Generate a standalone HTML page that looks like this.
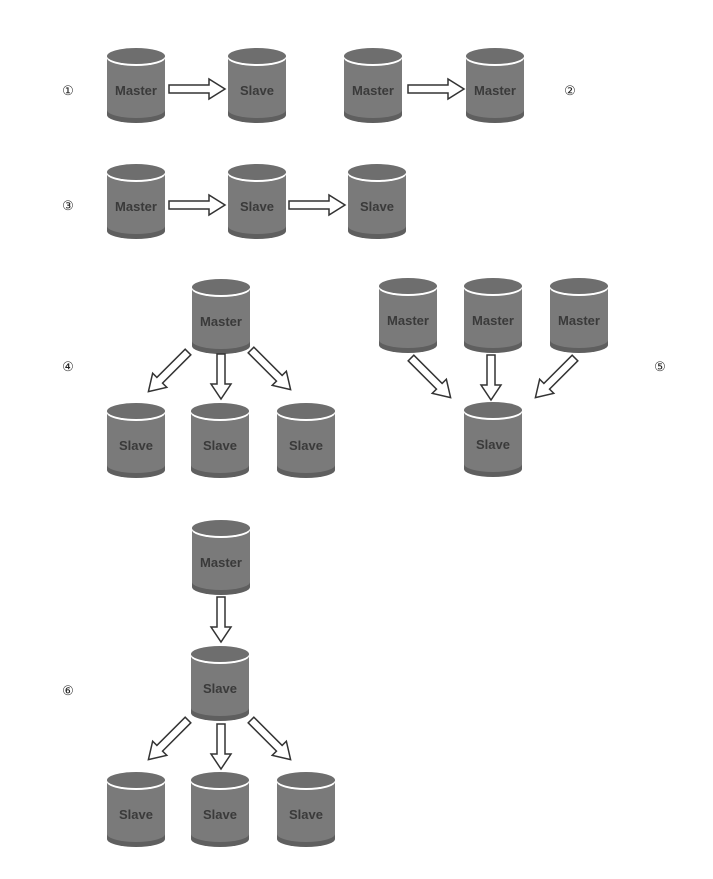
<!DOCTYPE html>
<html><head><meta charset="utf-8"><style>
html,body{margin:0;padding:0;background:#fff;}
svg{display:block;}
text{font-family:"Liberation Sans",sans-serif;}
.l{font-weight:bold;font-size:13px;fill:#3a3a3a;text-anchor:middle;}
.n{font-size:13px;fill:#222;text-anchor:middle;}
</style></head><body>
<svg width="713" height="879" viewBox="0 0 713 879" xmlns="http://www.w3.org/2000/svg">
<defs>
<g id="cyl">
<path d="M0,8 L0,67 A29,8 0 0 0 58,67 L58,8 Z" fill="#5f5f5f"/>
<path d="M0,8 L0,62 A29,8 0 0 0 58,62 L58,8 Z" fill="#7a7a7a"/>
<ellipse cx="29" cy="10" rx="29" ry="8" fill="#fff"/>
<ellipse cx="29" cy="8" rx="29" ry="8" fill="#6e6e6e"/>
</g>
<polygon id="arr" points="0,-4 40,-4 40,-10 56,0 40,10 40,4 0,4" fill="#fff" stroke="#333" stroke-width="1.5"/>
<polygon id="arr2" points="0,-4 30,-4 30,-10 45,0 30,10 30,4 0,4" fill="#fff" stroke="#333" stroke-width="1.5"/>
<polygon id="arrd" points="0,-4 40,-4 40,-10 56,0 40,10 40,4 0,4" fill="#fff" stroke="#333" stroke-width="1.5"/>
</defs>

<text class="n" x="68" y="95">①</text>
<text class="n" x="570" y="95">②</text>
<text class="n" x="68" y="210">③</text>
<text class="n" x="68" y="371">④</text>
<text class="n" x="660" y="371">⑤</text>
<text class="n" x="68" y="695">⑥</text>

<!-- row 1 -->
<use href="#cyl" x="107" y="48"/><text class="l" x="136" y="95">Master</text>
<use href="#cyl" x="228" y="48"/><text class="l" x="257" y="95">Slave</text>
<use href="#cyl" x="344" y="48"/><text class="l" x="373" y="95">Master</text>
<use href="#cyl" x="466" y="48"/><text class="l" x="495" y="95">Master</text>
<use href="#arr" transform="translate(169,89)"/>
<use href="#arr" transform="translate(408,89)"/>

<!-- row 3 -->
<use href="#cyl" x="107" y="164"/><text class="l" x="136" y="211">Master</text>
<use href="#cyl" x="228" y="164"/><text class="l" x="257" y="211">Slave</text>
<use href="#cyl" x="348" y="164"/><text class="l" x="377" y="211">Slave</text>
<use href="#arr" transform="translate(169,205)"/>
<use href="#arr" transform="translate(289,205)"/>

<!-- row 4 -->
<use href="#cyl" x="192" y="279"/><text class="l" x="221" y="326">Master</text>
<use href="#cyl" x="107" y="403"/><text class="l" x="136" y="450">Slave</text>
<use href="#cyl" x="191" y="403"/><text class="l" x="220" y="450">Slave</text>
<use href="#cyl" x="277" y="403"/><text class="l" x="306" y="450">Slave</text>
<use href="#arr2" transform="translate(221,354) rotate(90)"/>
<use href="#arrd" transform="translate(188,352) rotate(135)"/>
<use href="#arrd" transform="translate(251,350) rotate(45)"/>

<!-- row 5 -->
<use href="#cyl" x="379" y="278"/><text class="l" x="408" y="325">Master</text>
<use href="#cyl" x="464" y="278"/><text class="l" x="493" y="325">Master</text>
<use href="#cyl" x="550" y="278"/><text class="l" x="579" y="325">Master</text>
<use href="#cyl" x="464" y="402"/><text class="l" x="493" y="449">Slave</text>
<use href="#arrd" transform="translate(411,358) rotate(45)"/>
<use href="#arr2" transform="translate(491,355) rotate(90)"/>
<use href="#arrd" transform="translate(575,358) rotate(135)"/>

<!-- row 6 -->
<use href="#cyl" x="192" y="520"/><text class="l" x="221" y="567">Master</text>
<use href="#cyl" x="191" y="646"/><text class="l" x="220" y="693">Slave</text>
<use href="#cyl" x="107" y="772"/><text class="l" x="136" y="819">Slave</text>
<use href="#cyl" x="191" y="772"/><text class="l" x="220" y="819">Slave</text>
<use href="#cyl" x="277" y="772"/><text class="l" x="306" y="819">Slave</text>
<use href="#arr2" transform="translate(221,597) rotate(90)"/>
<use href="#arr2" transform="translate(221,724) rotate(90)"/>
<use href="#arrd" transform="translate(188,720) rotate(135)"/>
<use href="#arrd" transform="translate(251,720) rotate(45)"/>
</svg>
</body></html>
